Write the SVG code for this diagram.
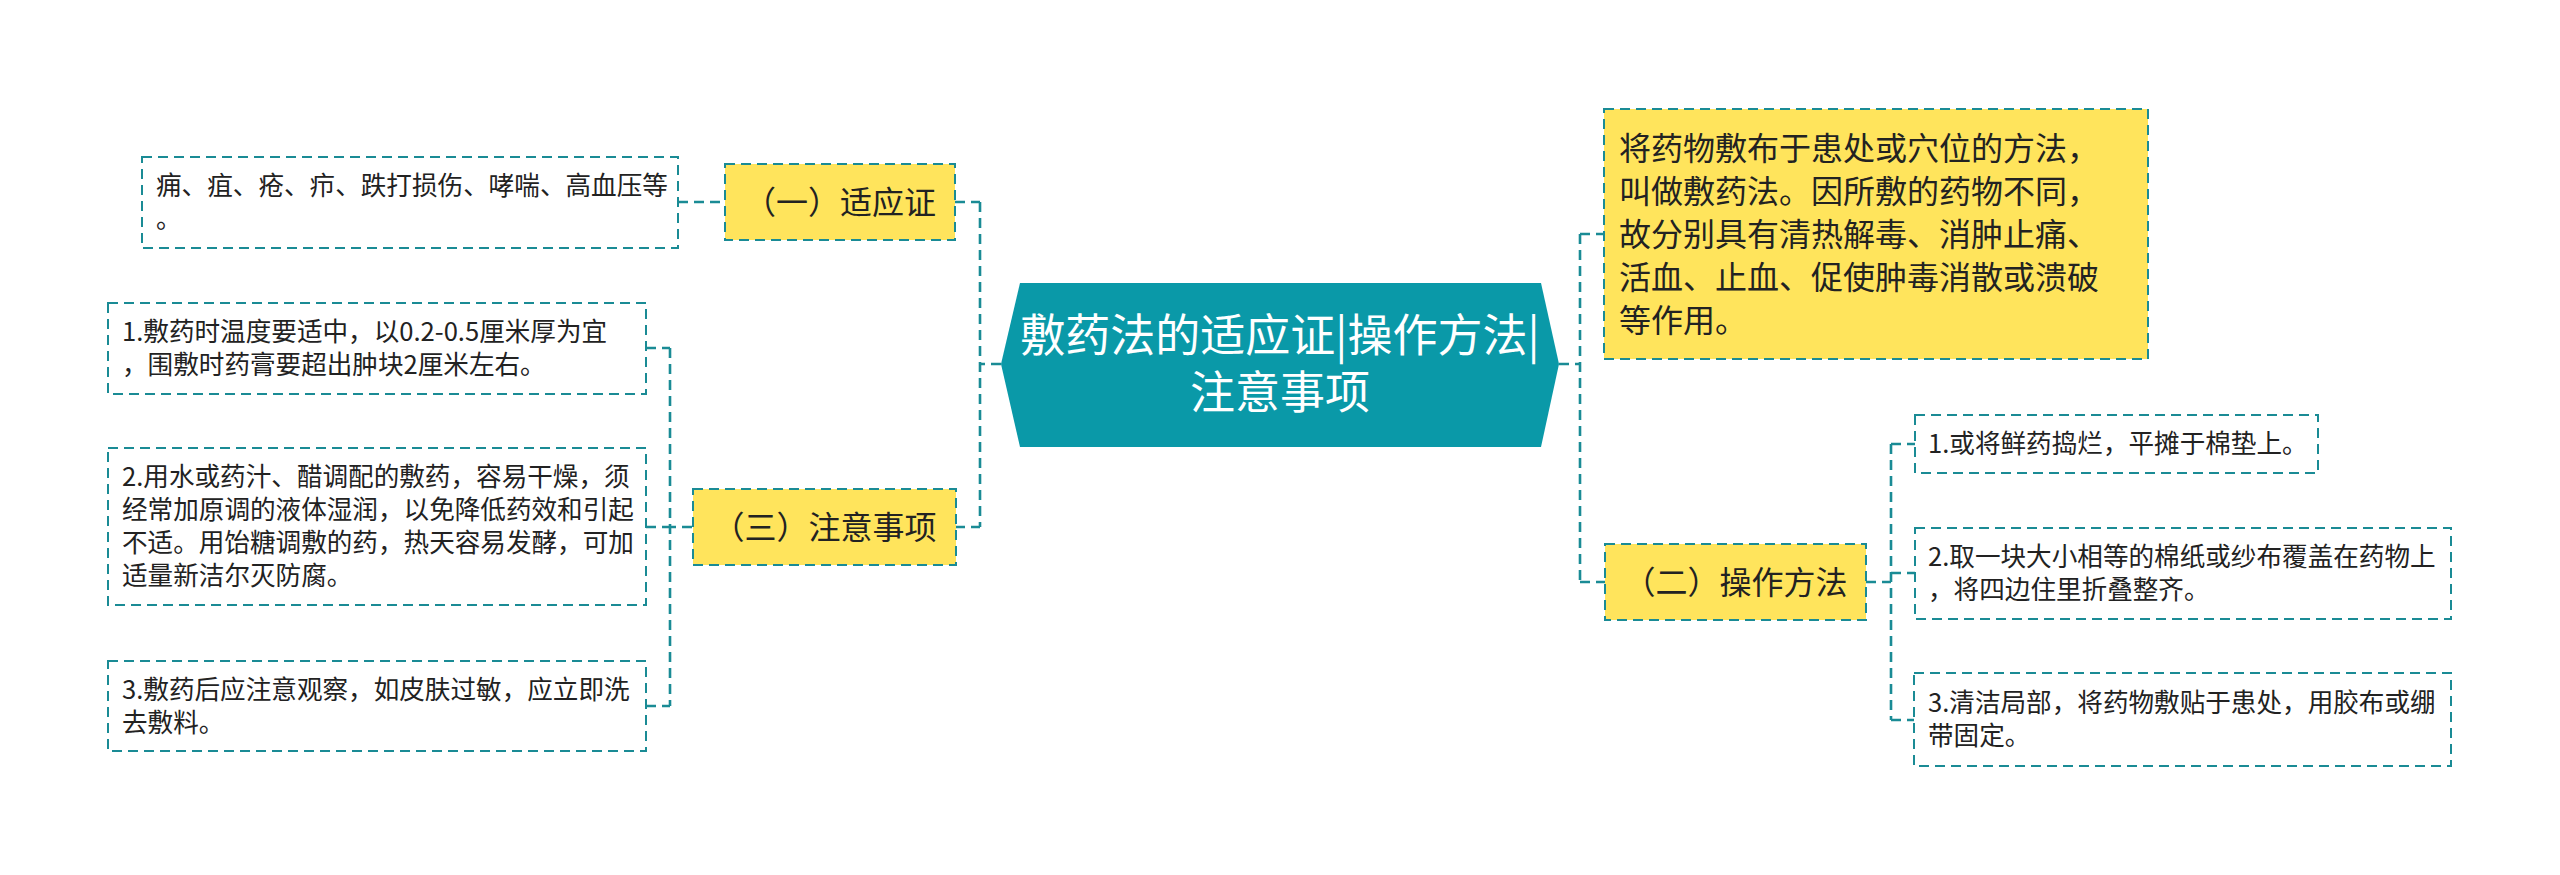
<svg xmlns="http://www.w3.org/2000/svg" width="2560" height="875" viewBox="0 0 2560 875">
<style>
text{font-family:"Noto Sans CJK SC","Noto Sans",sans-serif;}
.leaf{fill:#ffffff;stroke:#1a8b95;stroke-width:2;stroke-dasharray:10 6;}
.sub{fill:#ffe45c;stroke:#1a8b95;stroke-width:2;stroke-dasharray:10 6;}
.t25{font-size:25.6px;fill:#222222;}
.t32{font-size:32px;fill:#222222;}
.conn{fill:none;stroke:#1a8b95;stroke-width:2.6;stroke-dasharray:10 6;}
.root{fill:#0a99a8;}
.rt{font-size:45px;fill:#ffffff;text-anchor:middle;}
</style>
<rect width="2560" height="875" fill="#ffffff"/>
<g id="connectors">
<path class="conn" d="M1001,364 H980 M980,202 V527 M955,202 H980 M955,527 H980"/>
<path class="conn" d="M678,202 H725"/>
<path class="conn" d="M692,527 H670 M670,348 V706 M646,348 H670 M646,527 H670 M646,706 H670"/>
<path class="conn" d="M1559,364 H1580 M1580,234 V582 M1580,234 H1604 M1580,582 H1605"/>
<path class="conn" d="M1866,582 H1891 M1891,444 V720 M1891,444 H1915 M1891,573 H1915 M1891,720 H1914"/>
</g>
<g id="root">
<polygon class="root" points="1001,364 1020,283 1541,283 1559,364 1541,447 1020,447"/>
<text class="rt" x="1280" y="352">敷药法的适应证|操作方法|</text>
<text class="rt" x="1280" y="409">注意事项</text>
</g>
<g id="n1">
<rect class="sub" x="725" y="164" width="230" height="76"/>
<text class="t32" x="840" y="213.5" text-anchor="middle">（一）适应证</text>
</g>
<g id="n1a">
<rect class="leaf" x="142" y="157" width="536" height="91"/>
<text class="t25" x="156" y="195.2">痈、疽、疮、疖、跌打损伤、哮喘、高血压等</text>
<text class="t25" x="156" y="228.2">。</text>
</g>
<g id="n3">
<rect class="sub" x="693" y="489" width="263" height="76"/>
<text class="t32" x="824.5" y="538.5" text-anchor="middle">（三）注意事项</text>
</g>
<g id="n3a">
<rect class="leaf" x="108" y="303" width="538" height="91"/>
<text class="t25" x="122" y="341.2">1.敷药时温度要适中，以0.2-0.5厘米厚为宜</text>
<text class="t25" x="122" y="374.2">，围敷时药膏要超出肿块2厘米左右。</text>
</g>
<g id="n3b">
<rect class="leaf" x="108" y="448" width="538" height="157"/>
<text class="t25" x="122" y="486.2">2.用水或药汁、醋调配的敷药，容易干燥，须</text>
<text class="t25" x="122" y="519.2">经常加原调的液体湿润，以免降低药效和引起</text>
<text class="t25" x="122" y="552.2">不适。用饴糖调敷的药，热天容易发酵，可加</text>
<text class="t25" x="122" y="585.2">适量新洁尔灭防腐。</text>
</g>
<g id="n3c">
<rect class="leaf" x="108" y="661" width="538" height="90"/>
<text class="t25" x="122" y="698.7">3.敷药后应注意观察，如皮肤过敏，应立即洗</text>
<text class="t25" x="122" y="731.7">去敷料。</text>
</g>
<g id="desc">
<rect class="sub" x="1604" y="109" width="544" height="250"/>
<text class="t32" x="1619" y="159.5">将药物敷布于患处或穴位的方法，</text>
<text class="t32" x="1619" y="202.5">叫做敷药法。因所敷的药物不同，</text>
<text class="t32" x="1619" y="245.5">故分别具有清热解毒、消肿止痛、</text>
<text class="t32" x="1619" y="288.5">活血、止血、促使肿毒消散或溃破</text>
<text class="t32" x="1619" y="331.5">等作用。</text>
</g>
<g id="n2">
<rect class="sub" x="1605" y="544" width="261" height="76"/>
<text class="t32" x="1735.5" y="593.5" text-anchor="middle">（二）操作方法</text>
</g>
<g id="n2a">
<rect class="leaf" x="1915" y="415" width="403" height="58"/>
<text class="t25" x="1928" y="453.2">1.或将鲜药捣烂，平摊于棉垫上。</text>
</g>
<g id="n2b">
<rect class="leaf" x="1915" y="528" width="536" height="91"/>
<text class="t25" x="1928" y="566.2">2.取一块大小相等的棉纸或纱布覆盖在药物上</text>
<text class="t25" x="1928" y="599.2">，将四边住里折叠整齐。</text>
</g>
<g id="n2c">
<rect class="leaf" x="1914" y="673" width="537" height="93"/>
<text class="t25" x="1928" y="712.2">3.清洁局部，将药物敷贴于患处，用胶布或绷</text>
<text class="t25" x="1928" y="745.2">带固定。</text>
</g>
</svg>
